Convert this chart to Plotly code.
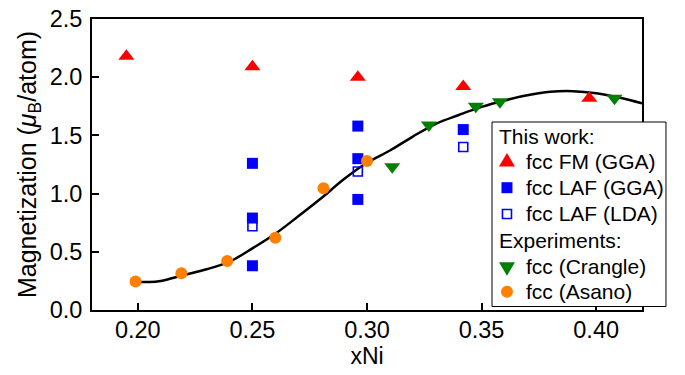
import plotly.graph_objects as go

# --- data ---
fm_x = [0.195, 0.250, 0.296, 0.342, 0.397]
fm_y = [2.18, 2.09, 2.00, 1.92, 1.82]

laf_gga_x = [0.250, 0.250, 0.250, 0.296, 0.296, 0.296, 0.342]
laf_gga_y = [1.26, 0.79, 0.38, 1.58, 1.30, 0.95, 1.55]

laf_lda_x = [0.250, 0.296, 0.342]
laf_lda_y = [0.72, 1.19, 1.40]

crangle_x = [0.311, 0.327, 0.3475, 0.358, 0.408]
crangle_y = [1.23, 1.59, 1.75, 1.79, 1.82]

asano_x = [0.199, 0.219, 0.239, 0.260, 0.281, 0.300]
asano_y = [0.245, 0.315, 0.42, 0.62, 1.045, 1.28]

fit_x = [0.199, 0.205, 0.21, 0.22, 0.23, 0.24, 0.25, 0.26, 0.27, 0.28, 0.29,
         0.30, 0.31, 0.32, 0.33, 0.34, 0.35, 0.36, 0.37, 0.38, 0.39, 0.40,
         0.41, 0.42]
fit_y = [0.243, 0.240, 0.250, 0.300, 0.350, 0.415, 0.530, 0.655, 0.805, 0.960,
         1.125, 1.265, 1.370, 1.490, 1.600, 1.675, 1.745, 1.800, 1.845, 1.875,
         1.880, 1.862, 1.825, 1.775]

x_ticks = [0.20, 0.25, 0.30, 0.35, 0.40]
y_ticks = [0.0, 0.5, 1.0, 1.5, 2.0, 2.5]

legend_rows = ["This work:", "fcc FM (GGA)", "fcc LAF (GGA)", "fcc LAF (LDA)",
               "Experiments:", "fcc (Crangle)", "fcc (Asano)"]

FONT = "Liberation Sans, Arial, sans-serif"
RED, BLUE, GREEN, ORANGE = "#ff0000", "#0000ff", "#008000", "#ff8000"

fig = go.Figure()

fig.add_trace(go.Scatter(
    x=fit_x, y=fit_y, mode="lines",
    line=dict(color="black", width=2.5, shape="spline", smoothing=1.0),
    showlegend=False, hoverinfo="skip"))

fig.add_trace(go.Scatter(
    x=fm_x, y=fm_y, mode="markers", name=legend_rows[1], showlegend=False,
    marker=dict(symbol="triangle-up", size=14, color=RED)))
fig.add_trace(go.Scatter(
    x=laf_gga_x, y=laf_gga_y, mode="markers", name=legend_rows[2], showlegend=False,
    marker=dict(symbol="square", size=11, color=BLUE)))
fig.add_trace(go.Scatter(
    x=laf_lda_x, y=laf_lda_y, mode="markers", name=legend_rows[3], showlegend=False,
    marker=dict(symbol="square-open", size=9, color=BLUE, line=dict(width=1.6))))
fig.add_trace(go.Scatter(
    x=crangle_x, y=crangle_y, mode="markers", name=legend_rows[5], showlegend=False,
    marker=dict(symbol="triangle-down", size=14, color=GREEN)))
fig.add_trace(go.Scatter(
    x=asano_x, y=asano_y, mode="markers", name=legend_rows[6], showlegend=False,
    marker=dict(symbol="circle", size=12, color=ORANGE)))

# ---- hand-built legend (box, symbols, texts) in plot-fraction coordinates ----
shapes = [dict(type="rect", xref="paper", yref="paper", layer="above",
               x0=0.7273, x1=1.0436, y0=0.0120, y1=0.6460,
               fillcolor="white", line=dict(color="black", width=1))]

row_y = [0.5955, 0.5086, 0.4203, 0.3299, 0.2381, 0.1488, 0.0629]
sym_x = 0.7545
txt_x = 0.7855
hdr_x = 0.7364


def pix_shape(y, **kw):
    d = dict(xref="paper", yref="paper", layer="above",
             xsizemode="pixel", ysizemode="pixel", xanchor=sym_x, yanchor=y)
    d.update(kw)
    return d


shapes.append(pix_shape(row_y[1], type="path", path="M-8,-4.5 L8,-4.5 L0,9 Z",
                        fillcolor=RED, line=dict(width=0)))
shapes.append(pix_shape(row_y[2], type="rect", x0=-5.5, x1=5.5, y0=-5.5, y1=5.5,
                        fillcolor=BLUE, line=dict(width=0)))
shapes.append(pix_shape(row_y[3], type="rect", x0=-4.5, x1=4.5, y0=-4.5, y1=4.5,
                        fillcolor="white", line=dict(color=BLUE, width=1.6)))
shapes.append(pix_shape(row_y[5], type="path", path="M-8,4.5 L8,4.5 L0,-9 Z",
                        fillcolor=GREEN, line=dict(width=0)))
shapes.append(pix_shape(row_y[6], type="circle", x0=-6, x1=6, y0=-6, y1=6,
                        fillcolor=ORANGE, line=dict(width=0)))

annotations = []
for i, (txt, y) in enumerate(zip(legend_rows, row_y)):
    annotations.append(dict(
        text=txt, xref="paper", yref="paper",
        x=hdr_x if i in (0, 4) else txt_x, y=y,
        xanchor="left", yanchor="middle", showarrow=False,
        font=dict(size=21, color="black", family=FONT)))

fig.update_layout(
    width=685, height=375,
    margin=dict(l=84, r=51, t=11, b=73, autoexpand=False),
    paper_bgcolor="white", plot_bgcolor="white",
    font=dict(family=FONT, size=23, color="black"),
    showlegend=False,
    shapes=shapes, annotations=annotations,
)

fig.update_xaxes(
    range=[0.18, 0.42], tickvals=x_ticks, tickformat=".2f",
    showline=True, linecolor="black", linewidth=2, mirror=True,
    ticks="inside", ticklen=7, tickwidth=1.5, tickcolor="black",
    showgrid=False, zeroline=False, automargin=False,
    tickfont=dict(size=23.5), ticklabelstandoff=-2, ticklabeloverflow="allow",
    title=dict(text="xNi", font=dict(size=23), standoff=6),
)
fig.update_yaxes(
    range=[0, 2.5], tickvals=y_ticks, tickformat=".1f",
    showline=True, linecolor="black", linewidth=2, mirror=True,
    ticks="inside", ticklen=7, tickwidth=1.5, tickcolor="black",
    showgrid=False, zeroline=False, automargin=False,
    tickfont=dict(size=23.5), ticklabelstandoff=3, ticklabeloverflow="allow",
    title=dict(text="Magnetization (<i>μ</i><sub>B</sub>/atom)", font=dict(size=25), standoff=6),
)

fig.write_html("out.html")
